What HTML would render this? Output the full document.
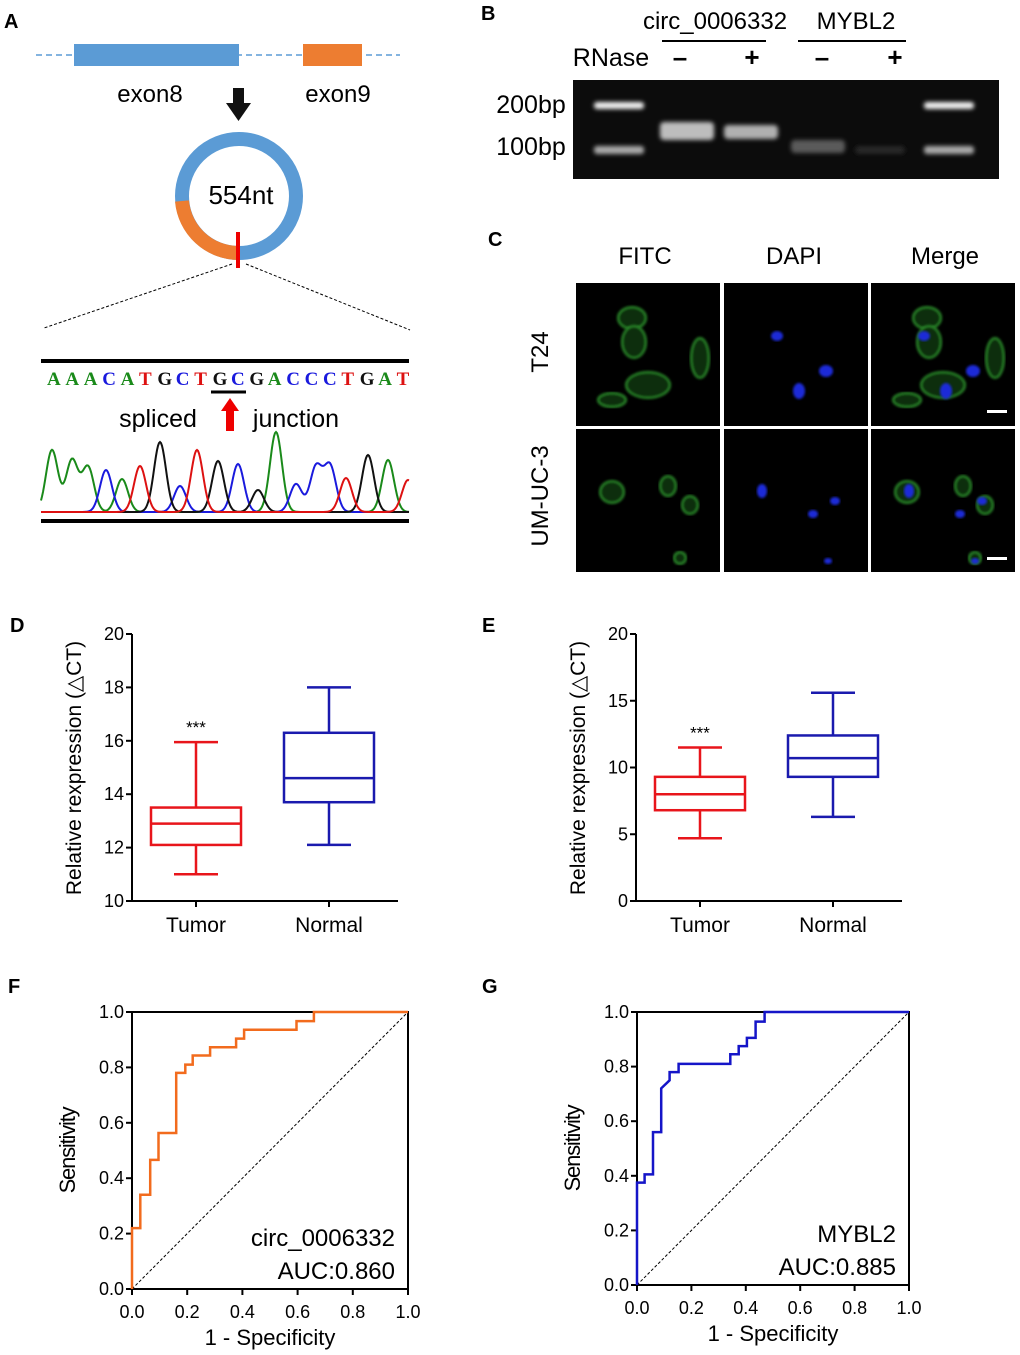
<!DOCTYPE html>
<html><head><meta charset="utf-8"><style>
body{margin:0;background:#fff;}
svg{display:block;font-family:"Liberation Sans",Arial,sans-serif;}
</style></head><body>
<svg id="fig" width="1020" height="1355" viewBox="0 0 1020 1355">
<defs>
<filter id="blur2"><feGaussianBlur stdDeviation="2.2"/></filter>
<filter id="blur1"><feGaussianBlur stdDeviation="1.2"/></filter>
</defs>
<g font-weight="bold" font-size="20">
<text x="4" y="28">A</text><text x="481" y="20">B</text><text x="488" y="246">C</text>
<text x="10" y="632">D</text><text x="482" y="632">E</text><text x="8" y="993">F</text><text x="482" y="993">G</text>
</g>
<g>
<line x1="36" y1="55" x2="400" y2="55" stroke="#5b9bd5" stroke-width="1.5" stroke-dasharray="6,4"/>
<rect x="74" y="44" width="165" height="22" fill="#5b9bd5"/>
<rect x="303" y="44" width="59" height="22" fill="#ed7d31"/>
<text x="150" y="102" font-size="24" text-anchor="middle">exon8</text>
<text x="338" y="102" font-size="24" text-anchor="middle">exon9</text>
<rect x="233" y="88" width="11" height="16" fill="#111"/>
<polygon points="226,103 251,103 238.5,121" fill="#111"/>
<circle cx="239" cy="196" r="57" fill="none" stroke="#5b9bd5" stroke-width="14"/>
<path d="M182,201 A57,57 0 0 0 239,253" fill="none" stroke="#ed7d31" stroke-width="14"/>
<line x1="238" y1="232" x2="238" y2="268" stroke="#e00" stroke-width="4"/>
<text x="241" y="204" font-size="26" text-anchor="middle">554nt</text>
<line x1="232" y1="264" x2="44" y2="328" stroke="#000" stroke-width="1" stroke-dasharray="3,2"/>
<line x1="246" y1="264" x2="410" y2="330" stroke="#000" stroke-width="1" stroke-dasharray="3,2"/>
</g>
<g>
<rect x="41" y="359" width="368" height="4" fill="#000"/>
<rect x="41" y="519" width="368" height="4" fill="#000"/>
<g font-family="Liberation Serif,serif" font-weight="bold" font-size="19" id="seq"></g>
<line x1="211" y1="392" x2="246" y2="392" stroke="#000" stroke-width="3"/>
<text x="158" y="427" font-size="25" text-anchor="middle">spliced</text>
<text x="296" y="427" font-size="25" text-anchor="middle">junction</text>
<rect x="226" y="409" width="8" height="22" fill="#e00"/>
<polygon points="221,411 239,411 230,398" fill="#e00"/>
<g id="chrom" fill="none" stroke-width="2"></g>
</g>
<g>
<text x="715" y="29" font-size="24" text-anchor="middle">circ_0006332</text>
<text x="856" y="29" font-size="24" text-anchor="middle">MYBL2</text>
<line x1="662" y1="41" x2="766" y2="41" stroke="#000" stroke-width="2"/>
<line x1="798" y1="41" x2="906" y2="41" stroke="#000" stroke-width="2"/>
<text x="611" y="66" font-size="25" text-anchor="middle">RNase</text>
<g font-size="26" font-weight="bold" text-anchor="middle">
<text x="680" y="66">–</text><text x="752" y="66">+</text><text x="822" y="66">–</text><text x="895" y="66">+</text></g>
<text x="531" y="113" font-size="25" text-anchor="middle">200bp</text>
<text x="531" y="155" font-size="25" text-anchor="middle">100bp</text>
<rect x="573" y="80" width="426" height="99" fill="#0c0c0c"/>
<g filter="url(#blur2)">
<rect x="594" y="102" width="50" height="7" rx="3" fill="#f2f2f2"/>
<rect x="594" y="146" width="50" height="8" rx="3" fill="#aaa"/>
<rect x="924" y="102" width="50" height="7" rx="3" fill="#f2f2f2"/>
<rect x="924" y="146" width="50" height="8" rx="3" fill="#aaa"/>
<rect x="660" y="122" width="54" height="18" rx="4" fill="#bdbdbd"/>
<rect x="724" y="125" width="54" height="14" rx="4" fill="#b0b0b0"/>
<rect x="791" y="140" width="54" height="13" rx="4" fill="#5a5a5a"/>
<rect x="855" y="146" width="50" height="8" rx="4" fill="#262626"/>
</g>
</g>
<g>
<text x="645" y="264" font-size="24" text-anchor="middle">FITC</text>
<text x="794" y="264" font-size="24" text-anchor="middle">DAPI</text>
<text x="945" y="264" font-size="24" text-anchor="middle">Merge</text>
<text transform="translate(548,352) rotate(-90)" font-size="24" text-anchor="middle">T24</text>
<text transform="translate(548,496) rotate(-90)" font-size="24" text-anchor="middle">UM-UC-3</text>
<g id="cells"></g>
</g>
<g id="pD"></g>
<g id="pE"></g>
<g id="pF"></g>
<g id="pG"></g>
</svg>
<script>
const NS="http://www.w3.org/2000/svg";
function mk(p,t,a,txt){const e=document.createElementNS(NS,t);for(const k in a)e.setAttribute(k,a[k]);if(txt!==undefined)e.textContent=txt;p.appendChild(e);return e;}
const seqLetters=["A","A","A","C","A","T","G","C","T","G","C","G","A","C","C","C","T","G","A","T"];
const col={A:"#1a8a1a",C:"#1a1add",G:"#111",T:"#dd1111"};
const sg=document.getElementById('seq');
seqLetters.forEach((L,i)=>{const t=mk(sg,'text',{x:47+i*18.4,y:385,fill:col[L]},L);

});
const peakX=[52,72,88,106,122,140,160,180,197,218,238,258,276,296,316,330,346,368,388,408];
const peakH=[62,52,45,42,33,46,70,26,62,51,48,22,80,28,45,46,34,57,52,32];
const peakB=["A","A","A","C","A","T","G","C","T","G","C","G","A","C","C","C","T","G","A","T"];
const cg=document.getElementById('chrom');
["A","C","G","T"].forEach(B=>{let d="";for(let x=41;x<=409;x+=1){let y=0;peakX.forEach((px,i)=>{if(peakB[i]===B)y+=peakH[i]*Math.exp(-((x-px)**2)/(2*36));});d+=(d?"L":"M")+x+","+(512-y).toFixed(1);}
const p=mk(cg,'path',{d:d,stroke:col[B]});

});
const cells=document.getElementById('cells');
const cols=[576,724,871],rows=[283,429];
const greenT=[[632,318,14,11],[634,342,12,16],[700,358,9,20],[648,385,22,13],[612,400,14,7]];
const blueT=[[777,336,6,5],[826,371,7,6],[799,391,6,8]];
const greenU=[[612,492,12,11],[668,486,8,10],[690,505,8,9],[680,558,6,6]];
const blueU=[[762,491,5,7],[835,501,5,4],[813,514,5,4],[828,561,4,3]];
rows.forEach((ry,r)=>cols.forEach((cx,c)=>{
const img=mk(cells,'rect',{x:cx,y:ry,width:144,height:143,fill:"#000"});


const G=r?greenU:greenT,Bl=r?blueU:blueT;
if(c!==1)G.forEach(g=>mk(cells,'ellipse',{cx:g[0]+(c?cols[2]-cols[0]:0),cy:g[1],rx:g[2],ry:g[3],fill:"#0b2e0b",stroke:"#2a8a2a","stroke-width":2,filter:"url(#blur1)"}));
if(c!==0)Bl.forEach(b=>mk(cells,'ellipse',{cx:b[0]+(c===2?cols[2]-cols[1]:0),cy:b[1],rx:b[2],ry:b[3],fill:"#1a2bd8",filter:"url(#blur1)"}));
if(c===2)mk(cells,'rect',{x:987,y:ry+(r?128:127),width:20,height:3,fill:"#fff"});
}));
const groups=["Tumor","Normal"];
const dStats=[[11.0,12.1,12.9,13.5,15.95],[12.1,13.7,14.6,16.3,18.0]];
const dTicks=[10,12,14,16,18,20];
const eStats=[[4.7,6.8,8.0,9.3,11.5],[6.3,9.3,10.7,12.4,15.6]];
const eTicks=[0,5,10,15,20];
function box(id,ax,ymin,ymax,ticks,stats,xEnd){
 const g=document.getElementById(id);const y0=901,y1=634;
 const Y=v=>y0-(v-ymin)/(ymax-ymin)*(y0-y1);
 mk(g,'line',{x1:ax,y1:y1,x2:ax,y2:y0,stroke:"#000","stroke-width":2});
 mk(g,'line',{x1:ax,y1:y0,x2:xEnd,y2:y0,stroke:"#000","stroke-width":2});
 ticks.forEach(t=>{mk(g,'line',{x1:ax-6,y1:Y(t),x2:ax,y2:Y(t),stroke:"#000","stroke-width":2});
  const tl=mk(g,'text',{x:ax-8,y:Y(t)+6,"font-size":18,"text-anchor":"end"},t);
  
  });
 const cx=[ax+64,ax+197],clr=["#e8151b","#1a1aae"];
 stats.forEach((s,i)=>{const c=cx[i];
  mk(g,'line',{x1:c,y1:y0,x2:c,y2:y0+6,stroke:"#000","stroke-width":2});
  const lab=mk(g,'text',{x:c,y:y0+31,"font-size":21,"text-anchor":"middle"},groups[i]);
  
  
  const bg=mk(g,'g',{stroke:clr[i],"stroke-width":2.5,fill:"none"});
  
  
  mk(bg,'line',{x1:c,y1:Y(s[0]),x2:c,y2:Y(s[1])});mk(bg,'line',{x1:c,y1:Y(s[3]),x2:c,y2:Y(s[4])});
  mk(bg,'line',{x1:c-22,y1:Y(s[0]),x2:c+22,y2:Y(s[0])});mk(bg,'line',{x1:c-22,y1:Y(s[4]),x2:c+22,y2:Y(s[4])});
  mk(bg,'rect',{x:c-45,y:Y(s[3]),width:90,height:Y(s[1])-Y(s[3])});
  mk(bg,'line',{x1:c-45,y1:Y(s[2]),x2:c+45,y2:Y(s[2])});
 });
 const st=mk(g,'text',{x:cx[0],y:Y(stats[0][4])-9,"font-size":17,"text-anchor":"middle"},"***");
 
 
 const yt=mk(g,'text',{transform:`translate(${ax-51},768) rotate(-90)`,"font-size":21,"text-anchor":"middle"},"Relative rexpression (△CT)");
 
 
}
box('pD',132,10,20,dTicks,dStats,398);
box('pE',636,0,20,eTicks,eStats,902);
const fFpr=[0,0,0.03,0.03,0.066,0.066,0.096,0.096,0.16,0.16,0.193,0.193,0.22,0.22,0.283,0.283,0.377,0.377,0.406,0.406,0.596,0.596,0.659,0.659,1];
const fTpr=[0,0.22,0.22,0.34,0.34,0.466,0.466,0.563,0.563,0.78,0.78,0.81,0.81,0.843,0.843,0.873,0.873,0.904,0.904,0.936,0.936,0.967,0.967,1,1];
const gFpr=[0,0,0.028,0.028,0.059,0.059,0.089,0.089,0.12,0.12,0.153,0.153,0.343,0.343,0.374,0.374,0.404,0.404,0.436,0.436,0.469,0.469,1];
const gTpr=[0,0.375,0.375,0.405,0.405,0.56,0.56,0.72,0.75,0.78,0.78,0.81,0.81,0.845,0.845,0.875,0.875,0.905,0.905,0.965,0.965,1,1];
const rocTicks=[0,0.2,0.4,0.6,0.8,1.0];
function roc(id,x0,x1,y0,y1,fpr,tpr,clr,name,auc){
 const g=document.getElementById(id);
 const X=v=>x0+v*(x1-x0),Y=v=>y0-v*(y0-y1);
 mk(g,'rect',{x:x0,y:y1,width:x1-x0,height:y0-y1,fill:"none",stroke:"#000","stroke-width":2});
 mk(g,'line',{x1:X(0),y1:Y(0),x2:X(1),y2:Y(1),stroke:"#000","stroke-width":1,"stroke-dasharray":"3,2"});
 rocTicks.forEach(t=>{
  mk(g,'line',{x1:x0-6,y1:Y(t),x2:x0,y2:Y(t),stroke:"#000","stroke-width":2});
  mk(g,'line',{x1:X(t),y1:y0,x2:X(t),y2:y0+6,stroke:"#000","stroke-width":2});
  const a=mk(g,'text',{x:x0-8,y:Y(t)+6,"font-size":18,"text-anchor":"end"},t.toFixed(1));
  
  
  const b=mk(g,'text',{x:X(t),y:y0+29,"font-size":18,"text-anchor":"middle"},t.toFixed(1));
  
  
 });
 const pts=fpr.map((f,i)=>X(f).toFixed(1)+","+Y(tpr[i]).toFixed(1)).join(" ");
 const pl=mk(g,'polyline',{points:pts,fill:"none",stroke:clr,"stroke-width":2.5});
 
 
 const yt=mk(g,'text',{transform:`translate(${x0-57},${(y0+y1)/2}) rotate(-90)`,"font-size":22,"text-anchor":"middle","letter-spacing":"-1.2"},"Sensitivity");
 
 
 const xt=mk(g,'text',{x:(x0+x1)/2,y:y0+56,"font-size":22,"text-anchor":"middle"},"1 - Specificity");
 
 
 const n=mk(g,'text',{x:x1-13,y:y0-43,"font-size":24,"text-anchor":"end"},name);
 
 
 const a=mk(g,'text',{x:x1-13,y:y0-10,"font-size":24,"text-anchor":"end"},auc);
 
 
}
roc('pF',132,408,1289,1012,fFpr,fTpr,"#f26b1d","circ_0006332","AUC:0.860");
roc('pG',637,909,1285,1012,gFpr,gTpr,"#1515c8","MYBL2","AUC:0.885");
</script>
</body></html>
